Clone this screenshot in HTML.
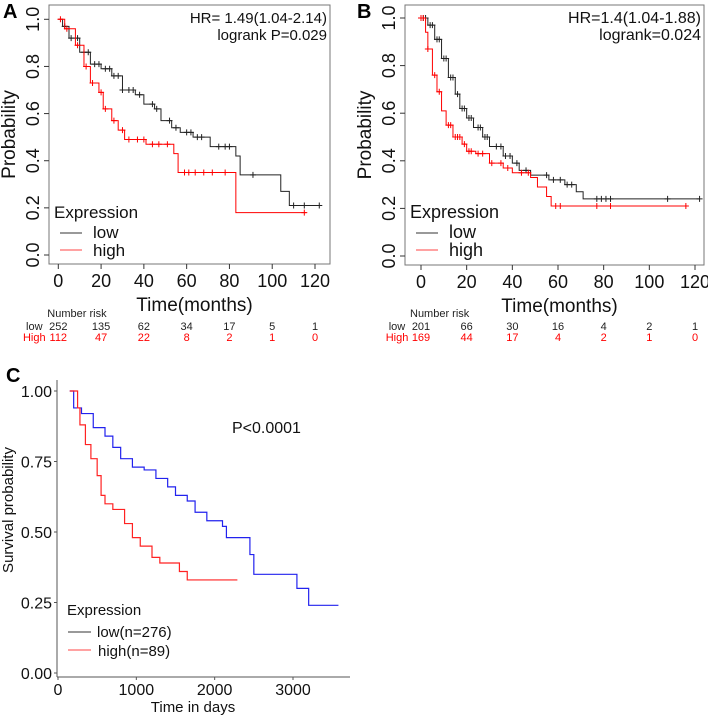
<!DOCTYPE html>
<html><head><meta charset="utf-8">
<style>
html,body{margin:0;padding:0;background:#fff;}
svg{display:block;font-family:"Liberation Sans",sans-serif;}
</style></head>
<body>
<svg id="fig" width="708" height="718" viewBox="0 0 708 718" xmlns="http://www.w3.org/2000/svg"></svg>
<script>
// ---- Panel A data ----
const aLowT = [0,2,5,10,15,20,25,30,36,40,45,48,53,57,63,71,83,85,104,108,123];
const aLowS = [1,0.97,0.92,0.86,0.81,0.79,0.76,0.70,0.68,0.64,0.62,0.57,0.54,0.52,0.50,0.46,0.42,0.34,0.27,0.21,0.21];
const aLowCens = [3,6,9,12,14,17,19,22,24,26,28,30,33,35,38,44,46,52,55,60,62,65,67,75,78,80,91,110,115,122];
const aHighT = [0,3,8,12,15,19,21,25,28,31,41,54,56,83,116];
const aHighS = [1,0.96,0.89,0.80,0.73,0.69,0.62,0.57,0.53,0.49,0.47,0.43,0.35,0.18,0.18];
const aHighCens = [1,4,9,13,16,20,22,26,30,33,37,40,44,47,51,59,61,64,68,72,78,115];
const aRiskLow = ["252","135","62","34","17","5","1"];
const aRiskHigh = ["112","47","22","8","2","1","0"];
// ---- Panel B data ----
const bLowT = [0,3,6,9,12,15,17,20,23,27,30,36,40,43,48,56,63,68,71,122];
const bLowS = [1,0.97,0.91,0.83,0.75,0.68,0.62,0.58,0.54,0.50,0.46,0.42,0.39,0.36,0.34,0.32,0.30,0.27,0.24,0.24];
const bLowCens = [1,2,4,5,7,8,10,11,13,14,16,18,19,21,22,25,26,28,29,33,35,37,39,42,46,55,58,61,64,66,77,79,81,83,108,122];
const bHighT = [0,2,3,5,7,9,11,14,18,20,24,30,36,40,48,51,55,57,116];
const bHighS = [1,0.94,0.87,0.76,0.69,0.61,0.55,0.50,0.47,0.44,0.43,0.39,0.37,0.35,0.33,0.29,0.25,0.21,0.21];
const bHighCens = [0,1,3,6,8,12,13,15,16,17,19,21,22,25,27,31,35,38,44,47,59,61,77,83,116];
const bRiskLow = ["201","66","30","16","4","2","1"];
const bRiskHigh = ["169","44","17","4","2","1","0"];
// ---- Panel C data ----
const cLowT = [150,200,300,450,600,700,800,950,1100,1250,1400,1500,1650,1750,1900,2100,2150,2400,2450,2500,3050,3200,3580];
const cLowS = [1,0.94,0.92,0.87,0.84,0.80,0.76,0.73,0.72,0.69,0.66,0.63,0.61,0.57,0.54,0.52,0.48,0.48,0.42,0.35,0.30,0.24,0.24];
const cHighT = [150,250,280,350,420,500,550,600,700,850,950,1050,1200,1300,1550,1650,2290];
const cHighS = [1,0.94,0.88,0.81,0.76,0.70,0.63,0.60,0.58,0.53,0.48,0.45,0.41,0.39,0.36,0.33,0.33];
const cXTicks = [0,1000,2000,3000];
const cYTicks = [0,0.25,0.5,0.75,1];
const abXTicks = [0,20,40,60,80,100,120];
const abYTicks = [0,0.2,0.4,0.6,0.8,1.0];

const NS="http://www.w3.org/2000/svg";
const svg=document.getElementById('fig');
function el(tag,attrs,parent){const e=document.createElementNS(NS,tag);for(const k in attrs)e.setAttribute(k,attrs[k]);(parent||svg).appendChild(e);return e;}
function txt(s,attrs,parent){const e=el('text',attrs,parent);e.textContent=s;return e;}
function stepPath(T,S,xf,yf){let d='M'+xf(T[0])+','+yf(S[0]);for(let i=1;i<T.length;i++){d+=' H'+xf(T[i])+' V'+yf(S[i]);}return d;}
function survAt(T,S,t){let v=S[0];for(let i=0;i<T.length;i++){if(T[i]<=t)v=S[i];}return v;}

function kmPanel(o){
  const g=el('g',{});
  
  
  const xf=t=>o.x0+(t-0)*(o.x1-o.x0)/120;
  const yf=s=>o.y0+(o.y1-o.y0)*(1-s);
  const box=el('rect',{x:o.bx0,y:o.by0,width:o.bx1-o.bx0,height:o.by1-o.by0,fill:'none',stroke:'#777','stroke-width':1},g);
  
  
  abXTicks.forEach(t=>{
    el('line',{x1:xf(t),x2:xf(t),y1:o.by1,y2:o.by1+5,stroke:'#333'},g);
    const l=txt(String(t),{x:xf(t),y:o.by1+23,'font-size':18,'text-anchor':'middle',fill:'#111'},g);
    
    
  });
  abYTicks.forEach(v=>{
    el('line',{x1:o.bx0-5,x2:o.bx0,y1:yf(v),y2:yf(v),stroke:'#333'},g);
    const l=txt(v.toFixed(1),{x:0,y:0,'font-size':18,'text-anchor':'middle',fill:'#111',transform:`translate(${o.bx0-10},${yf(v)}) rotate(-90)`},g);
    
    
  });
  const yl=txt('Probability',{x:0,y:0,'font-size':19,'text-anchor':'middle',fill:'#111',transform:`translate(${o.bx0-34},${(o.by0+o.by1)/2}) rotate(-90)`},g);
  
  
  const xl=txt('Time(months)',{x:(o.bx0+o.bx1)/2+5,y:o.by1+47,'font-size':19,'text-anchor':'middle',fill:'#111'},g);
  
  
  const series=[[o.lowT,o.lowS,o.lowC,'#222','low-curve'],[o.highT,o.highS,o.highC,'#f00','high-curve']];
  series.forEach(([T,S,C,col,nm])=>{
    const p=el('path',{d:stepPath(T,S,xf,yf),fill:'none',stroke:col,'stroke-width':1},g);
    
    
    C.forEach(t=>{
      const y=yf(survAt(T,S,t)),x=xf(t);
      const c=el('path',{d:`M${x-3},${y} H${x+3} M${x},${y-3} V${y+3}`,stroke:col,'stroke-width':1},g);
      
      
    });
  });
  const h1=txt(o.hr,{x:o.bx1-3,y:o.by0+18,'font-size':o.fs,'text-anchor':'end',fill:'#111'},g);
  
  
  const h2=txt(o.lr,{x:o.bx1-3,y:o.by0+35,'font-size':o.fs,'text-anchor':'end',fill:'#111'},g);
  
  
  const lg=el('g',{},g);
  
  
  txt('Expression',{x:o.bx0+5,y:o.by0+213,'font-size':o.lfs,fill:'#111'},lg);
  el('line',{x1:o.bx0+11,x2:o.bx0+33,y1:o.by0+228,y2:o.by0+228,stroke:'#333'},lg);
  const lt=txt('low',{x:o.bx0+44,y:o.by0+233,'font-size':o.lfs,fill:'#111'},lg);
  
  
  el('line',{x1:o.bx0+11,x2:o.bx0+33,y1:o.by0+245,y2:o.by0+245,stroke:'#f44'},lg);
  const ht=txt('high',{x:o.bx0+44,y:o.by0+251,'font-size':o.lfs,fill:'#111'},lg);
  
  
  const rk=el('g',{},g);
  
  
  txt('Number risk',{x:xf(0)-11,y:317,'font-size':11,fill:'#222'},rk);
  txt('low',{x:xf(0)-24,y:330,'font-size':11,'text-anchor':'middle',fill:'#222'},rk);
  txt('High',{x:xf(0)-24,y:341,'font-size':11,'text-anchor':'middle',fill:'#f00'},rk);
  o.riskLow.forEach((v,i)=>txt(v,{x:xf(abXTicks[i]),y:330,'font-size':11,'text-anchor':'middle',fill:'#222'},rk));
  o.riskHigh.forEach((v,i)=>txt(v,{x:xf(abXTicks[i]),y:341,'font-size':11,'text-anchor':'middle',fill:'#f00'},rk));
  const lab=txt(o.label,{x:o.labX,y:18,'font-size':20,'font-weight':'bold',fill:'#000'},g);
  
  
}

kmPanel({name:'panel-a',label:'A',labX:3,x0:58.3,x1:315,y0:19.3,y1:255,bx0:49,bx1:330,by0:5,by1:264,
  lowT:aLowT,lowS:aLowS,lowC:aLowCens,highT:aHighT,highS:aHighS,highC:aHighCens,
  hr:'HR= 1.49(1.04-2.14)',lr:'logrank P=0.029',fs:15,lfs:17,riskLow:aRiskLow,riskHigh:aRiskHigh});
kmPanel({name:'panel-b',label:'B',labX:357,x0:421,x1:695,y0:18,y1:256,bx0:405,bx1:704,by0:5,by1:265,
  lowT:bLowT,lowS:bLowS,lowC:bLowCens,highT:bHighT,highS:bHighS,highC:bHighCens,
  hr:'HR=1.4(1.04-1.88)',lr:'logrank=0.024',fs:16,lfs:18,riskLow:bRiskLow,riskHigh:bRiskHigh});

// ---- Panel C ----
(function(){
  const g=el('g',{});
  
  
  const xf=t=>58+t*(293-58)/3000;
  const yf=s=>673-s*(673-391);
  el('line',{x1:57,x2:57,y1:380,y2:677,stroke:'#555'},g);
  el('line',{x1:57,x2:350,y1:677,y2:677,stroke:'#555'},g);
  cXTicks.forEach(t=>{
    el('line',{x1:xf(t),x2:xf(t),y1:677,y2:680,stroke:'#555'},g);
    const l=txt(String(t),{x:xf(t),y:695,'font-size':16,'text-anchor':'middle',fill:'#111'},g);
    
    
  });
  cYTicks.forEach(v=>{
    el('line',{x1:54,x2:57,y1:yf(v),y2:yf(v),stroke:'#555'},g);
    const l=txt(v.toFixed(2),{x:52,y:yf(v)+6,'font-size':16,'text-anchor':'end',fill:'#111'},g);
    
    
  });
  const yl=txt('Survival probability',{x:0,y:0,'font-size':15,'text-anchor':'middle',fill:'#111',transform:'translate(13,510) rotate(-90)'},g);
  
  
  const xl=txt('Time in days',{x:193,y:712,'font-size':15,'text-anchor':'middle',fill:'#111'},g);
  
  
  const pl=el('path',{d:stepPath(cLowT,cLowS,xf,yf),fill:'none',stroke:'#2222ee','stroke-width':1.2},g);
  
  
  const ph=el('path',{d:stepPath(cHighT,cHighS,xf,yf),fill:'none',stroke:'#f22','stroke-width':1.2},g);
  
  
  const p=txt('P<0.0001',{x:232,y:433,'font-size':16,fill:'#111'},g);
  
  
  const lg=el('g',{},g);
  
  
  txt('Expression',{x:67,y:615,'font-size':15,fill:'#111'},lg);
  el('line',{x1:68,x2:91,y1:632,y2:632,stroke:'#333'},lg);
  const a=txt('low(n=276)',{x:97,y:637,'font-size':15,fill:'#111'},lg);
  
  
  el('line',{x1:68,x2:91,y1:650,y2:650,stroke:'#f44'},lg);
  const b=txt('high(n=89)',{x:98,y:656,'font-size':15,fill:'#111'},lg);
  
  
  const lab=txt('C',{x:6,y:382,'font-size':20,'font-weight':'bold',fill:'#000'},g);
  
  
})();
</script>
</body></html>
